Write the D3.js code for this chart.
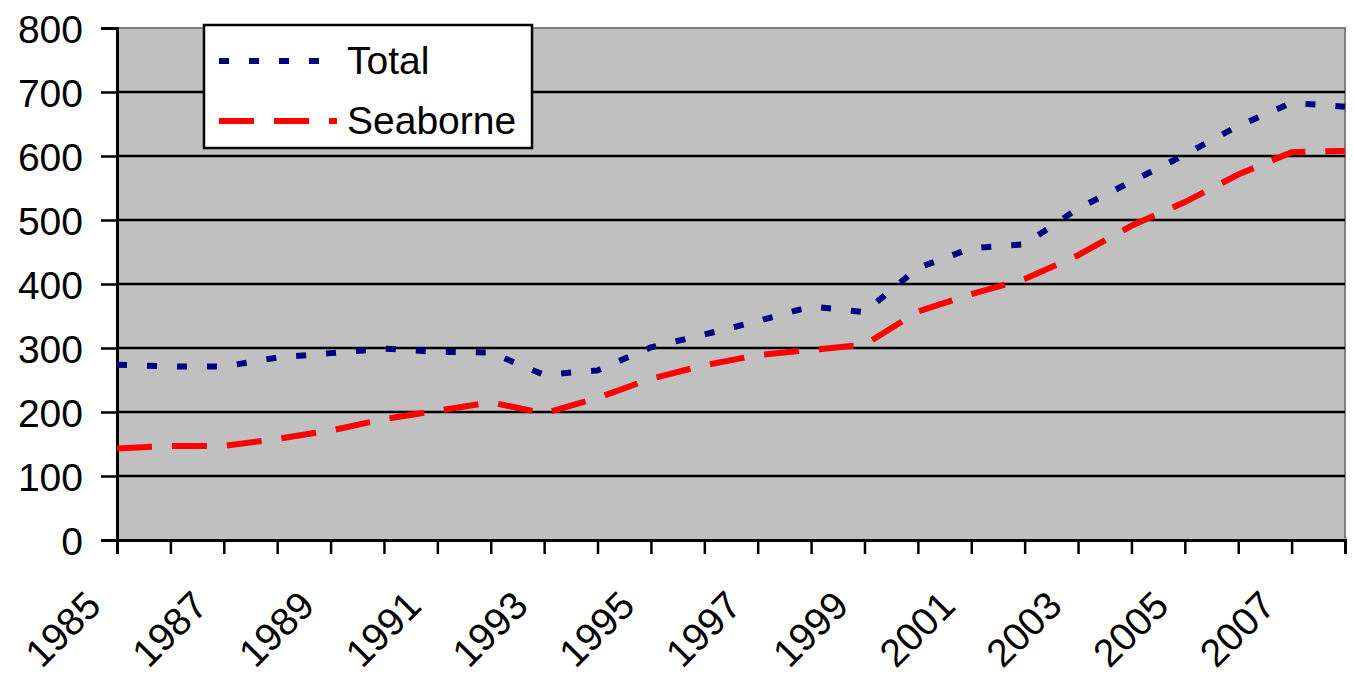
<!DOCTYPE html>
<html>
<head>
<meta charset="utf-8">
<script src="https://cdn.jsdelivr.net/npm/d3@7"></script>
<style>
    body { margin: 0; background: #fff; }
    text { font-family: "Liberation Sans", Arial, sans-serif; fill: #000; }
</style>
</head>
<body>
<div id="chart"></div>
<script>
// data
var years = d3.range(1985, 2009);
var total = [274, 271, 271, 285, 292, 299, 294, 293, 258, 265, 301, 321, 342, 365, 356, 425, 456, 462, 518, 560, 602, 647, 683, 677];
var seaborne = [143, 147, 147, 158, 171, 189, 202, 215, 198, 222, 252, 273, 289, 297, 305, 357, 384, 408, 445, 491, 528, 571, 606, 608];
var yTicks = [0, 100, 200, 300, 400, 500, 600, 700, 800];
var seriesNames = ["Total", "Seaborne"];

var width = 1354;
var height = 684;
var margin = {top: 28, right: 9, bottom: 144, left: 117};

var svg = d3.select("#chart").append("svg")
    .attr("width", width)
    .attr("height", height);

var x = d3.scalePoint()
    .domain(years)
    .range([margin.left, width - margin.right]);

var y = d3.scaleLinear()
    .domain([0, 800])
    .range([height - margin.bottom, margin.top]);

//Plot area
svg.append("rect")
    .attr("x", margin.left)
    .attr("y", margin.top)
    .attr("width", width - margin.right - margin.left)
    .attr("height", y(0) - margin.top)
    .attr("fill", "#c0c0c0")
    .attr("stroke", "#808080")
    .attr("stroke-width", 2);

//Gridlines
svg.append("g")
    .selectAll("line")
    .data(yTicks.filter(function (d) { return d > 0 && d < 800; }))
    .enter()
    .append("line")
    .attr("x1", margin.left)
    .attr("x2", width - margin.right)
    .attr("y1", function (d) { return y(d); })
    .attr("y2", function (d) { return y(d); })
    .attr("stroke", "#000")
    .attr("stroke-width", 2.5);

//Y axis
var yAxis = svg.append("g")
    .attr("transform", "translate(" + margin.left + ",0)")
    .call(d3.axisLeft(y).tickValues(yTicks).tickSize(16).tickPadding(18));
yAxis.select(".domain").attr("stroke-width", 3);
yAxis.selectAll(".tick line").attr("stroke-width", 2.5);
yAxis.selectAll("text")
    .attr("font-size", "39px")
    .attr("font-family", "Liberation Sans, Arial, sans-serif")
    .attr("dy", "0.36em");

//X axis
var xAxis = svg.append("g")
    .attr("transform", "translate(0," + y(0) + ")")
    .call(d3.axisBottom(x).tickSize(14).tickFormat(""));
xAxis.select(".domain").attr("stroke-width", 3);
xAxis.selectAll(".tick line").attr("stroke-width", 2.5);

svg.append("g")
    .selectAll("text")
    .data(years.filter(function (d) { return d % 2 == 1; }))
    .enter()
    .append("text")
    .attr("transform", function (d) {
        return "translate(" + (x(d) - 14) + "," + (y(0) + 68) + ") rotate(-45)";
    })
    .attr("text-anchor", "end")
    .attr("font-size", "39px")
    .text(function (d) { return d; });

//Lines
var line = function (values) {
    return d3.line()
        .x(function (d, i) { return x(years[i]); })
        .y(function (d) { return y(d); })(values);
};

svg.append("path")
    .attr("d", line(seaborne))
    .attr("fill", "none")
    .attr("stroke", "#ff0000")
    .attr("stroke-width", 6)
    .attr("stroke-dasharray", "35,20");

svg.append("path")
    .attr("d", line(total))
    .attr("fill", "none")
    .attr("stroke", "#000080")
    .attr("stroke-width", 6)
    .attr("stroke-dasharray", "10,20");

//Legend
var legend = svg.append("g");
legend.append("rect")
    .attr("x", 204)
    .attr("y", 25)
    .attr("width", 328)
    .attr("height", 123)
    .attr("fill", "#fff")
    .attr("stroke", "#000")
    .attr("stroke-width", 2.5);

var legendItems = [
    {name: seriesNames[0], color: "#000080", dash: "10,20", x2: 320, y: 61},
    {name: seriesNames[1], color: "#ff0000", dash: "35,20", x2: 337, y: 121}
];

legendItems.forEach(function (d) {
    legend.append("line")
        .attr("x1", 219)
        .attr("x2", d.x2)
        .attr("y1", d.y)
        .attr("y2", d.y)
        .attr("stroke", d.color)
        .attr("stroke-width", 6)
        .attr("stroke-dasharray", d.dash);
    legend.append("text")
        .attr("x", 347)
        .attr("y", d.y + 13)
        .attr("font-size", "39px")
        .text(d.name);
});
</script>
</body>
</html>
